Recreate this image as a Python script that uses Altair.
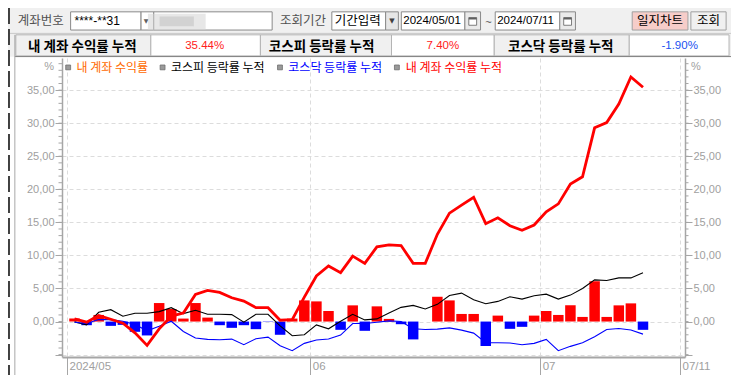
import altair as alt
import pandas as pd

# ---------------- data ----------------
dates = ["2024-05-02", "2024-05-03", "2024-05-07", "2024-05-08", "2024-05-09", "2024-05-10",
         "2024-05-13", "2024-05-14", "2024-05-16", "2024-05-17", "2024-05-20", "2024-05-21",
         "2024-05-22", "2024-05-23", "2024-05-24", "2024-05-27", "2024-05-28", "2024-05-29",
         "2024-05-30", "2024-05-31",
         "2024-06-03", "2024-06-04", "2024-06-05", "2024-06-07", "2024-06-10", "2024-06-11",
         "2024-06-12", "2024-06-13", "2024-06-14", "2024-06-17", "2024-06-18", "2024-06-19",
         "2024-06-20", "2024-06-21", "2024-06-24", "2024-06-25", "2024-06-26", "2024-06-27",
         "2024-06-28",
         "2024-07-01", "2024-07-02", "2024-07-03", "2024-07-04", "2024-07-05", "2024-07-08",
         "2024-07-09", "2024-07-10", "2024-07-11"]

account_daily = [0.45, -0.55, 1.0, -0.65, -0.5, -1.55, -2.1, 2.8, 1.9, 0.45,
                 2.8, 0.6, -0.55, -0.95, -0.55, -1.15, -0.05, -2.0, 0.45, 3.2,
                 3.05, 1.6, -1.25, 2.45, -1.4, 2.3, 0.4, -0.4, -2.7, 0.0,
                 3.75, 3.2, 1.15, 1.15, -3.7, 0.9, -1.1, -0.8, 0.9, 1.6,
                 1.0, 2.45, 0.7, 6.1, 0.7, 2.45, 2.75, -1.25]

account_cum = [0.4, -0.1, 0.9, 0.35, -0.25, -1.7, -3.6, -1.1, 0.8, 1.3,
               4.1, 4.7, 4.4, 3.6, 3.1, 2.1, 2.1, 0.2, 0.3, 3.7,
               6.9, 8.4, 7.4, 9.9, 8.8, 11.3, 11.6, 11.5, 8.8, 8.8,
               13.2, 16.4, 17.6, 18.8, 14.8, 15.7, 14.5, 13.8, 14.6, 16.6,
               17.8, 20.8, 21.9, 29.3, 30.1, 32.9, 37.0, 35.44]

kospi_cum = [-0.05, -0.5, 1.4, 1.8, 0.8, 1.25, 1.25, 1.5, 2.1, 1.2,
             1.7, 1.1, 1.1, 1.05, -0.1, 1.1, 1.1, -0.65, -2.15, -2.0,
             -0.5, -1.1, 0.05, 1.1, 0.25, 0.4, 1.3, 2.15, 2.45, 1.9,
             2.6, 3.95, 4.3, 3.3, 2.7, 3.05, 3.75, 3.4, 3.9, 4.15,
             3.4, 4.0, 5.0, 6.3, 6.2, 6.6, 6.6, 7.4]

kosdaq_cum = [-0.1, -0.3, 0.3, 0.3, 0.05, -0.45, -1.4, -0.7, 0.05, -1.5,
              -2.5, -2.7, -2.75, -2.65, -3.5, -2.6, -2.35, -3.65, -4.4, -3.3,
              -2.8, -2.65, -2.05, -0.3, -0.3, -0.1, 0.1, 0.0, -1.1, -1.2,
              -1.15, -0.95, -1.3, -1.75, -3.2, -3.2, -3.25, -3.5, -3.3, -2.7,
              -4.4, -3.75, -3.2, -2.3, -1.2, -1.05, -1.28, -1.9]

account_total = 35.44
kospi_total = 7.40
kosdaq_total = -1.90

y_tick_values = [-5, 0, 5, 10, 15, 20, 25, 30, 35]
y_tick_labels = ["", "0,00", "5,00", "10,00", "15,00", "20,00", "25,00", "30,00", "35,00"]
minor_tick_values = list(range(-5, 40))
x_tick_labels = ["2024/05", "06", "07", "07/11"]
legend_labels = ["내 계좌 수익률", "코스피 등락률 누적", "코스닥 등락률 누적", "내 계좌 수익률 누적"]
summary_labels = ["내 계좌 수익률 누적", "코스피 등락률 누적", "코스닥 등락률 누적"]
account_no = "****-**31"
period_from = "2024/05/01"
period_to = "2024/07/11"

# ---------------- layout ----------------
W_TOTAL, H_TOTAL = 723, 367
SX = W_TOTAL / 739
SY = H_TOTAL / 383
PL, PT = 54, 50
PW, PH = 623, 299
KR = "Noto Sans CJK KR"
LAT = "Liberation Sans"
AXC = "#A6A6A6"


def X(x):
    return round(x * SX - PL, 2)


def Y(y):
    return round(y * SY - PT, 2)


ONE = alt.Data(values=[{"k": 1}])


def txt(s, x, y, size=12, color="#000000", font=KR, weight="normal", align="left"):
    return alt.Chart(ONE).mark_text(
        text=s, align=align, baseline="middle", fontSize=size, color=color,
        font=font, fontWeight=weight
    ).encode(x=alt.value(X(x)), y=alt.value(Y(y)))


def box(x0, y0, x1, y1, fill, stroke=None, sw=1.0, opacity=1.0):
    kw = dict(fill=fill, opacity=opacity)
    if stroke:
        kw.update(stroke=stroke, strokeWidth=sw)
    return alt.Chart(ONE).mark_rect(**kw).encode(
        x=alt.value(X(x0)), x2=alt.value(X(x1)), y=alt.value(Y(y0)), y2=alt.value(Y(y1)))


def hrule(y, x0, x1, color, w=1.0):
    return alt.Chart(ONE).mark_rule(color=color, strokeWidth=w).encode(
        y=alt.value(Y(y)), x=alt.value(X(x0)), x2=alt.value(X(x1)))


def vrule(x, y0, y1, color, w=1.0, dash=None):
    kw = dict(color=color, strokeWidth=w)
    if dash:
        kw.update(strokeDash=dash)
    return alt.Chart(ONE).mark_rule(**kw).encode(
        x=alt.value(X(x)), y=alt.value(Y(y0)), y2=alt.value(Y(y1)))


# ---------------- scales / axes ----------------
X_MIN, X_MAX = -0.62, 50.06
Y_MIN, Y_MAX = -5.36, 39.86
months = [d[:7] for d in dates]
bounds = [i - 0.5 for i in range(1, len(dates)) if months[i] != months[i - 1]]
x_tick_values = [X_MIN] + bounds + [X_MAX]


def nearest_expr(values, labels):
    expr = "''"
    for v, l in reversed(list(zip(values, labels))):
        expr = f"abs(datum.value - ({v})) < 0.01 ? '{l}' : ({expr})"
    return expr


XS = alt.Scale(domain=[X_MIN, X_MAX], nice=False, zero=False)
YS = alt.Scale(domain=[Y_MIN, Y_MAX], nice=False, zero=False)

XAX = alt.Axis(values=x_tick_values, labelExpr=nearest_expr(x_tick_values, x_tick_labels),
               grid=True, gridDash=[4, 3], gridColor="#DCDCDC", tickSize=18, tickColor=AXC,
               domainColor=AXC, domainWidth=2, labelAlign="left", labelBaseline="middle",
               labelPadding=-9, labelOffset=2, labelColor="#A0A0A0", labelFont=LAT,
               labelFontSize=11.5, labelFlush=False, labelOverlap=False, title=None)


def yaxis(orient, grid):
    return alt.Axis(orient=orient, values=y_tick_values,
                    labelExpr=nearest_expr(y_tick_values, y_tick_labels),
                    grid=grid, gridDash=[4, 3], gridColor="#DCDCDC", tickSize=7, tickColor=AXC,
                    domainColor=AXC, domainWidth=1.5, labelColor="#A0A0A0", labelFont=LAT,
                    labelFontSize=11, labelPadding=1, labelFlush=False, labelOverlap=False,
                    title=None)


df = pd.DataFrame({"idx": list(range(len(dates))), "date": dates, "daily": account_daily,
                   "cum": account_cum, "kospi": kospi_cum, "kosdaq": kosdaq_cum})
base = alt.Chart(df)
x_enc = alt.X("idx:Q", scale=XS, axis=XAX)

bars = base.mark_bar(size=10.5).encode(
    x=x_enc,
    y=alt.Y("daily:Q", scale=YS, axis=yaxis("left", True)),
    y2=alt.datum(0),
    color=alt.condition("datum.daily >= 0", alt.value("#FF0000"), alt.value("#0000FF")),
)
kospi_line = base.mark_line(color="#000000", strokeWidth=1.1).encode(
    x=x_enc, y=alt.Y("kospi:Q", scale=YS, axis=None))
kosdaq_line = base.mark_line(color="#0000FF", strokeWidth=1.1).encode(
    x=x_enc, y=alt.Y("kosdaq:Q", scale=YS, axis=None))
cum_line = base.mark_line(color="#FF0000", strokeWidth=2.8).encode(
    x=x_enc, y=alt.Y("cum:Q", scale=YS, axis=yaxis("right", False)))

minor = pd.DataFrame({"t": minor_tick_values})
minor_left = alt.Chart(minor).mark_rule(color=AXC).encode(
    y=alt.Y("t:Q", scale=YS, axis=None), x=alt.value(-3.5), x2=alt.value(0))
minor_right = alt.Chart(minor).mark_rule(color=AXC).encode(
    y=alt.Y("t:Q", scale=YS, axis=None), x=alt.value(PW), x2=alt.value(PW + 3.5))

# ---------------- header (toolbar + summary row) ----------------
INP = "#8A8A8A"
layers = [
    box(0, 0, 739, 51, "#F0F0F0"),
    hrule(26.5, 0, 739, "#C8C8C8"),
    # toolbar
    txt("계좌번호", 10, 13.5, 12.5, "#505050"),
    box(64, 4, 136, 23, "#FFFFFF", INP),
    txt(account_no, 68, 14, 12, "#000000", LAT),
    box(136, 4, 149, 23, "#FFFFFF", INP),
    txt("▼", 141, 13.5, 6, "#606060", "DejaVu Sans", align="center"),
    box(149, 4, 270, 23, "#FFFFFF", INP),
    box(143, 6, 202, 23, "#D4D4D4", opacity=0.55),
    box(155, 9, 190, 19, "#BDBDBD", opacity=0.5),
    txt("조회기간", 278, 13.5, 12.5, "#505050"),
    box(331, 4, 386, 23, "#FFFFFF", INP),
    txt("기간입력", 334, 14, 12.5, "#000000"),
    box(386, 4, 399, 23, "#E6E6E6", INP),
    txt("▼", 392.5, 13.5, 7, "#404040", "DejaVu Sans", align="center"),
    box(402, 4, 467, 23, "#FFFFFF", INP),
    txt(period_from, 404, 14, 11.5, "#000000", LAT),
    box(467, 4, 483, 23, "#EAEAEA", INP),
    box(471, 10, 479, 18, "#FFFFFF", "#606060", 0.8),
    box(471, 10, 479, 12, "#606060"),
    txt("~", 491, 16, 11, "#505050", LAT, align="center"),
    box(498, 4, 564, 23, "#FFFFFF", INP),
    txt(period_to, 500, 14, 11.5, "#000000", LAT),
    box(564, 4, 580, 23, "#EAEAEA", INP),
    box(568, 10, 576, 18, "#FFFFFF", "#606060", 0.8),
    box(568, 10, 576, 12, "#606060"),
    box(638, 4, 695, 23, "#F6CDC9", "#A0A0A0"),
    txt("일지차트", 666.5, 14, 12.5, "#000000", align="center"),
    box(698, 4, 734, 23, "#F0F0F0", "#A0A0A0"),
    txt("조회", 716, 14, 12.5, "#000000", align="center"),
    # summary row
    box(8, 28, 146, 50, "#F0F0F0", "#B4B4B4"),
    box(146, 28, 258, 50, "#FFFFFF", "#B4B4B4"),
    box(258, 28, 392, 50, "#F0F0F0", "#B4B4B4"),
    box(392, 28, 497, 50, "#FFFFFF", "#B4B4B4"),
    box(497, 28, 635, 50, "#F0F0F0", "#B4B4B4"),
    box(635, 28, 737, 50, "#FFFFFF", "#B4B4B4"),
    txt(summary_labels[0], 76, 40.5, 13.5, "#000000", weight="bold", align="center"),
    txt(f"{account_total:.2f}%", 201, 40, 11.5, "#FF2020", LAT, align="center"),
    txt(summary_labels[1], 320.5, 40.5, 13.5, "#000000", weight="bold", align="center"),
    txt(f"{kospi_total:.2f}%", 444.5, 40, 11.5, "#FF2020", LAT, align="center"),
    txt(summary_labels[2], 565, 40.5, 13.5, "#000000", weight="bold", align="center"),
    txt(f"{kosdaq_total:.2f}%", 686.5, 40, 11.5, "#2050F0", LAT, align="center"),
    # panel borders
    hrule(50.7, 7, 739, "#808080"),
    vrule(7, 28, 383, "#A8A8A8"),
    vrule(1, 0, 383, "#404040", 2, [16, 5]),
    # axis unit labels
    txt("%", 42, 62, 11, "#A0A0A0", LAT, align="center"),
    txt("%", 703, 62, 11, "#A0A0A0", LAT, align="center"),
    minor_left, minor_right,
    bars, kospi_line, kosdaq_line, cum_line,
]

# legend
legend_x = [(59, 70, "#FF6A00"), (155.5, 166.5, "#000000"), (275.5, 286.5, "#0000FF"),
            (395, 406.5, "#FF0000")]
for (mx, tx, col), lab in zip(legend_x, legend_labels):
    layers.append(box(mx, 59.5, mx + 5, 64.5, "#9A9A9A", "#6E6E6E", 0.8))
    layers.append(txt(lab, tx, 62.5, 12, col))

chart = alt.layer(*layers).resolve_axis(y="independent").properties(
    width=PW, height=PH,
    padding={"left": PL, "top": PT, "right": W_TOTAL - PL - PW, "bottom": H_TOTAL - PT - PH},
    autosize=alt.AutoSizeParams(type="none"),
    background="#FFFFFF",
).configure_view(stroke=None)

chart.save("out.html", embed_options={"renderer": "svg", "actions": False})
